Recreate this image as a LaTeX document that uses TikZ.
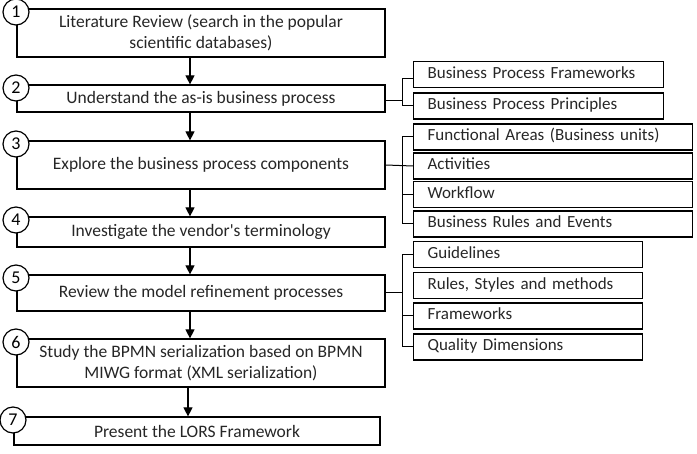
\documentclass[tikz,border=0pt]{standalone}
\usepackage{fontspec}
\setmainfont{Carlito}[Ligatures=TeXOff]
\usetikzlibrary{arrows.meta}
\begin{document}
\begin{tikzpicture}[x=1pt,y=-1pt,
  lw/.style={line width=1.2pt},
  mainbox/.style={lw,draw,rectangle,minimum width=368pt,inner sep=0pt,align=center,font=\fontsize{17.5}{21}\selectfont,text=black!85},
  sidebox/.style={lw,draw,rectangle,anchor=west,inner ysep=0pt,inner xsep=14pt,minimum height=26pt,text height=12pt,text depth=4pt,align=left,font=\fontsize{17}{20}\selectfont,text=black!85},
  numcirc/.style={lw,draw,circle,fill=white,minimum size=26pt,inner sep=0pt,font=\fontsize{18}{20}\selectfont},
  arr/.style={lw,-{Triangle[length=9pt,width=9pt]}},
  conn/.style={line width=1pt}]
\useasboundingbox (0,0) rectangle (697,454);
% main boxes
\node[mainbox,minimum height=48pt] (b1) at (201,33) {Literature Review (search in the popular\\scientific databases)};
\node[mainbox,minimum height=27pt] (b2) at (201,98.5) {Understand the as-is business process};
\node[mainbox,minimum height=48pt] (b3) at (201,165) {Explore the business process components};
\node[mainbox,minimum height=30pt] (b4) at (201,232) {Investigate the vendor's terminology};
\node[mainbox,minimum height=36pt] (b5) at (201,293) {Review the model refinement processes};
\node[mainbox,minimum height=48pt] (b6) at (201,363) {Study the BPMN serialization based on BPMN\\MIWG format (XML serialization)};
\node[mainbox,minimum height=28pt,minimum width=366pt] (b7) at (197,431) {Present the LORS Framework};
% arrows
\coordinate (ax) at (190,0);
\coordinate (ax2) at (188,0);
\draw[arr] (b1.south -| ax) -- (b2.north -| ax);
\draw[arr] (b2.south -| ax) -- (b3.north -| ax);
\draw[arr] (b3.south -| ax) -- (b4.north -| ax);
\draw[arr] (b4.south -| ax) -- (b5.north -| ax);
\draw[arr] (b5.south -| ax) -- (b6.north -| ax);
\draw[arr] (b6.south -| ax2) -- (b7.north -| ax2);
% circles
\node[numcirc] (c1) at (16,12) {1};
\node[numcirc] (c2) at (16,88) {2};
\node[numcirc] (c3) at (16,144) {3};
\node[numcirc] (c4) at (16,220) {4};
\node[numcirc] (c5) at (16,278) {5};
\node[numcirc] (c6) at (16,342) {6};
\node[numcirc] (c7) at (13,420) {7};
% side boxes group 1
\node[sidebox,text width=222pt] (s1) at (413,74.5) {Business Process Frameworks};
\node[sidebox,text width=222pt] (s2) at (413,106) {Business Process Principles};
% group 2
\node[sidebox,text width=251pt] (s3) at (413,137) {Functional Areas (Business units)};
\node[sidebox,text width=251pt] (s4) at (413,166) {Activities};
\node[sidebox,text width=251pt] (s5) at (413,194.5) {Workflow};
\node[sidebox,text width=251pt] (s6) at (413,224) {Business Rules and Events};
% group 3
\node[sidebox,text width=201pt] (s7) at (413,254.5) {Guidelines};
\node[sidebox,text width=201pt] (s8) at (413,285.5) {Rules, Styles and methods};
\node[sidebox,text width=201pt] (s9) at (413,316) {Frameworks};
\node[sidebox,text width=201pt] (s10) at (413,347) {Quality Dimensions};
% connectors
\coordinate (t) at (402.5,0);
\coordinate (j1) at (0,79);
\coordinate (j2) at (0,101);
\draw[conn] (b2.east |- j2) -- (t |- j2);
\draw[conn] (s1.west |- j1) -- (t |- j1) -- (s2.west -| t) -- (s2.west);
\draw[conn] (b3.east) -- (s4.west);
\draw[conn] (s3.west) -- (s3.west -| t) -- (s6.west -| t) -- (s6.west);
\draw[conn] (s5.west -| t) -- (s5.west);
\draw[conn] (b5.east) -- (b5.east -| t);
\draw[conn] (s7.west) -- (s7.west -| t) -- (s10.west -| t) -- (s10.west);
\draw[conn] (s9.west -| t) -- (s9.west);
\end{tikzpicture}
\end{document}
